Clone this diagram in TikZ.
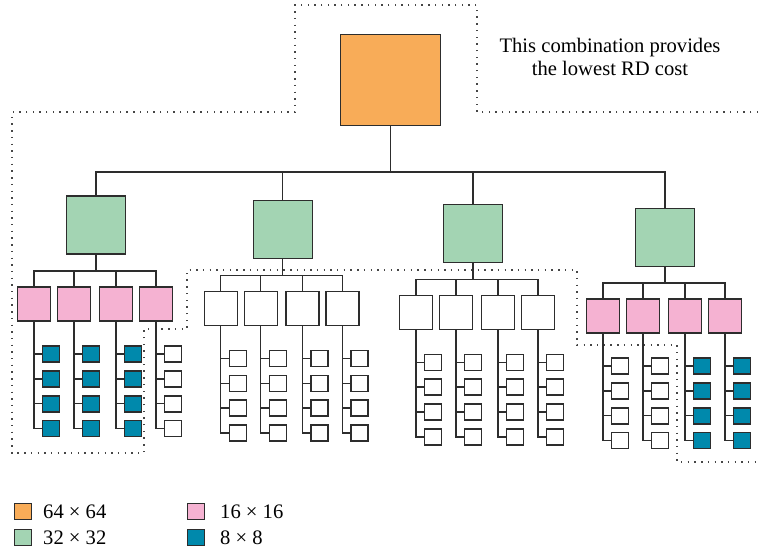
\documentclass[tikz,border=0pt]{standalone}
\usepackage{fontspec}
\setmainfont{Liberation Serif}
\begin{document}
\begin{tikzpicture}[x=1pt,y=-1pt,
  line/.style={draw=linec,line width=1.35pt},
  blk/.style={draw=linec,line width=1.4pt,inner sep=0pt,outer sep=0pt},
  rootbox/.style={blk,fill=orangec,minimum width=100pt,minimum height=91pt},
  cubox/.style={blk,fill=greenc,minimum width=59pt,minimum height=58pt},
  pubox/.style={blk,minimum width=33pt,minimum height=34pt},
  leafbox/.style={blk,minimum width=17pt,minimum height=16pt},
  legbox/.style={blk,line width=1pt,minimum width=17pt,minimum height=16pt},
  dotline/.style={draw=dotc,line width=1.4pt,dash pattern=on 1.4pt off 5.3pt},
  txt/.style={font=\fontsize{20.6}{23}\selectfont,text=black,inner sep=0pt}]
\definecolor{linec}{RGB}{45,45,45}
\definecolor{dotc}{RGB}{70,70,70}
\definecolor{orangec}{RGB}{248,172,88}
\definecolor{greenc}{RGB}{163,212,179}
\definecolor{pinkc}{RGB}{245,178,210}
\definecolor{bluec}{RGB}{0,137,172}
\useasboundingbox (0,0) rectangle (760,554);

% dotted boundary of the best combination
\draw[dotline] (758,112) -- (477,112) -- (477,5) -- (295,5) -- (295,112) -- (12,112)
  -- (12,453) -- (144,453) -- (144,329) -- (187,329) -- (187,270) -- (577,270)
  -- (577,345) -- (677,345) -- (677,462) -- (758,462);

% root
\node[rootbox] (root) at (390.3,79.7) {};
\coordinate (rbar) at (390.3,172);

% level 2
\node[cubox] (g1) at (96,225) {};
\node[cubox] (g2) at (282.7,229.3) {};
\node[cubox] (g3) at (473,233.2) {};
\node[cubox] (g4) at (665,237.3) {};

\draw[line] (root.south) -- (rbar);
\draw[line] (g1.north) |- (rbar) -| (g4.north);
\draw[line] (g2.north) -- (g2.north |- rbar);
\draw[line] (g3.north) -- (g3.north |- rbar);

% level 3 and 4
% group g: green centre x, box row centre y, box x centres, box fills, leaf fills
\foreach \g/\gx/\by/\xa/\xb/\xc/\xd/\fa/\fb/\fc/\fd/\la/\lb/\lc/\ld in {
  1/96/304/34/74/116/156/pinkc/pinkc/pinkc/pinkc/bluec/bluec/bluec/white,
  2/282.7/308.3/220.7/260.7/302.5/342.3/white/white/white/white/white/white/white/white,
  3/473/312.2/416/456/498/538/white/white/white/white/white/white/white/white,
  4/665/316/603/643/685/725/pinkc/pinkc/pinkc/pinkc/white/white/bluec/bluec}{
  \coordinate (s\g) at (\gx,\by-33);
  \node[pubox,fill=\fa] (b\g1) at (\xa,\by) {};
  \node[pubox,fill=\fb] (b\g2) at (\xb,\by) {};
  \node[pubox,fill=\fc] (b\g3) at (\xc,\by) {};
  \node[pubox,fill=\fd] (b\g4) at (\xd,\by) {};
  \draw[line] (g\g.south) -- (s\g);
  \draw[line] (b\g1.north) |- (s\g) -| (b\g4.north);
  \draw[line] (b\g2.north) -- (b\g2.north |- s\g);
  \draw[line] (b\g3.north) -- (b\g3.north |- s\g);
  \foreach \i/\xx/\lf in {1/\xa/\la,2/\xb/\lb,3/\xc/\lc,4/\xd/\ld}{
    \foreach \j in {1,2,3,4}{
      \node[leafbox,fill=\lf] (l\g\i\j) at (\xx+17,\by+50+24.9*\j-24.9) {};
    }
    \draw[line] (b\g\i.south) |- (l\g\i4.west);
    \foreach \j in {1,2,3}{
      \draw[line] (l\g\i\j.west) -- (l\g\i\j.west -| b\g\i.south);
    }
  }
}

% annotation
\node[txt,align=center] (note) at (610,57) {This combination provides\\the lowest RD cost};

% legend
\node[legbox,fill=orangec] (k1) at (22.7,511.3) {};
\node[legbox,fill=greenc] (k2) at (22.7,537.2) {};
\node[legbox,fill=pinkc] (k3) at (196,511.3) {};
\node[legbox,fill=bluec] (k4) at (196,537.2) {};
\node[txt,anchor=base west] (t1) at (43,518) {64 × 64};
\node[txt,anchor=base west] (t2) at (43,544.5) {32 × 32};
\node[txt,anchor=base west] (t3) at (220,518) {16 × 16};
\node[txt,anchor=base west] (t4) at (220,544.5) {8 × 8};
\end{tikzpicture}
\end{document}
